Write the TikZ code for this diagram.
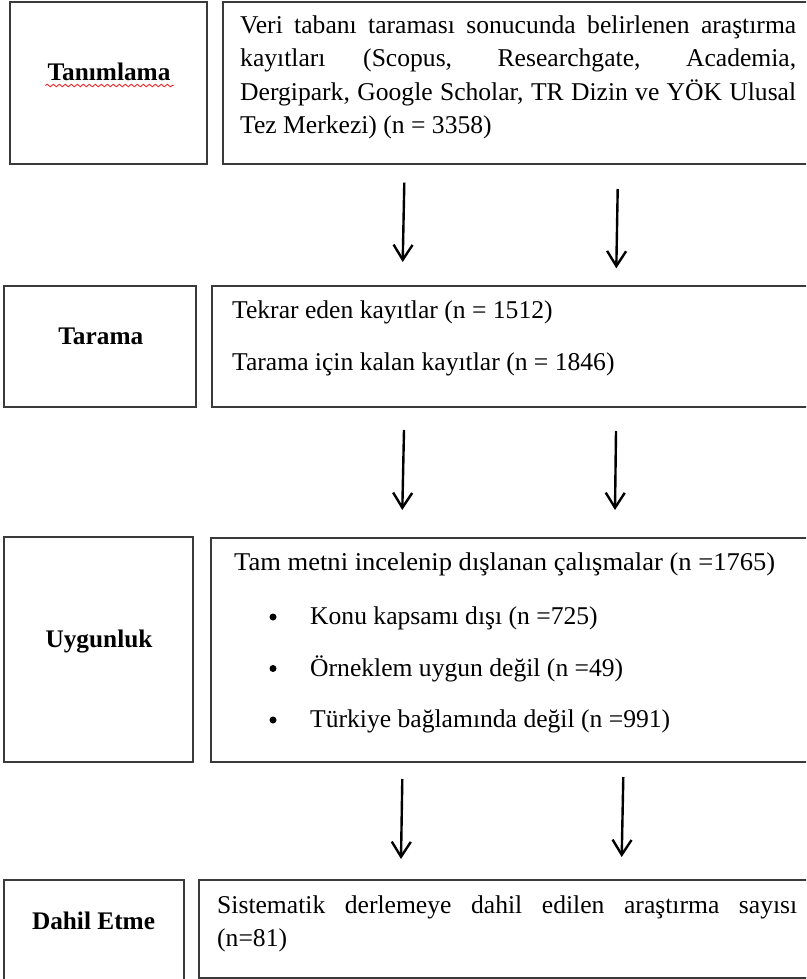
\documentclass[tikz,border=0pt]{standalone}
\usepackage{fontspec}
\setmainfont{Liberation Serif}
\usetikzlibrary{arrows.meta,decorations.pathmorphing}
\definecolor{frame}{RGB}{58,58,58}
\definecolor{spellred}{RGB}{235,40,40}

\begin{document}
\begin{tikzpicture}[x=1pt,y=-1pt,
  panel/.style={draw=frame,line width=1.9pt,inner sep=0pt,outer sep=0pt,anchor=north west},
  stagelabel/.style={font=\fontsize{25.3}{30}\selectfont\bfseries,inner sep=0pt,anchor=base},
  body/.style={font=\fontsize{25.6}{33.5}\selectfont,inner sep=0pt,anchor=base west},
  dot/.style={circle,fill=black,inner sep=0pt,minimum size=7pt},
  flow/.style={line width=2.4pt,-{Straight Barb[length=15pt,width=19pt]}}
]
\useasboundingbox (0,0) rectangle (806,979);
\clip (0,0) rectangle (806,979);

% stage 1: identification
\node[panel,minimum width=197pt,minimum height=162pt] (idbox) at (10,2) {};
\node[panel,minimum width=600pt,minimum height=162pt] (idtext) at (223,2) {};
\node[stagelabel] (idlabel) at (109,81) {Tanımlama};
\draw[spellred,line width=0.9pt,decoration={snake,segment length=6pt,amplitude=1.3pt},decorate]
  ([xshift=-2pt,yshift=-4.5pt]idlabel.base west) -- ([xshift=3pt,yshift=-4.5pt]idlabel.base east);
\node[body] (idbody) at (240,33.3) {\parbox[t]{556pt}{\fontsize{25.6}{33.5}\selectfont
  \makebox[556pt][s]{Veri tabanı taraması sonucunda belirlenen araştırma}\\
  \makebox[556pt][s]{kayıtları (Scopus, Researchgate, Academia,}\\
  \makebox[556pt][s]{Dergipark, Google Scholar, TR Dizin ve YÖK Ulusal}\\
  Tez Merkezi) (n = 3358)}};

% stage 2: screening
\node[panel,minimum width=192pt,minimum height=121pt] (scbox) at (4,286) {};
\node[panel,minimum width=610pt,minimum height=121pt] (sctext) at (212,286) {};
\node[stagelabel] (sclabel) at (100.8,344) {Tarama};
\node[body] (sc1) at (232,318.3) {Tekrar eden kayıtlar (n = 1512)};
\node[body] (sc2) at (232,370) {Tarama için kalan kayıtlar (n = 1846)};

% stage 3: eligibility
\node[panel,minimum width=189pt,minimum height=225pt] (elbox) at (4,537) {};
\node[panel,minimum width=612pt,minimum height=224pt] (eltext) at (211,538) {};
\node[stagelabel] (ellabel) at (99,647) {Uygunluk};
\node[body] (el0) at (234,570) {\resizebox{541pt}{\height}{Tam metni incelenip dışlanan çalışmalar (n =1765)}};
\node[dot] (b1) at (273,617) {};
\node[body] (el1) at (310,624.5) {Konu kapsamı dışı (n =725)};
\node[dot] (b2) at (273,668.5) {};
\node[body] (el2) at (310,676) {Örneklem uygun değil (n =49)};
\node[dot] (b3) at (273,720) {};
\node[body] (el3) at (310,727.5) {Türkiye bağlamında değil (n =991)};

% stage 4: inclusion
\node[panel,minimum width=180pt,minimum height=104pt] (inbox) at (4,880) {};
\node[panel,minimum width=624pt,minimum height=98pt] (intext) at (199,880) {};
\node[stagelabel] (inlabel) at (93.5,929) {Dahil Etme};
\node[body] (inbody) at (217,913.3) {\parbox[t]{580pt}{\fontsize{25.6}{33.5}\selectfont
  \makebox[580pt][s]{Sistematik derlemeye dahil edilen araştırma sayısı}\\
  (n=81)}};

% flow arrows between the stages
\coordinate (a1s) at (404.3,182.7); \coordinate (a1e) at (402.7,262);
\coordinate (a2s) at (617.7,189);   \coordinate (a2e) at (616.3,268.3);
\coordinate (a3s) at (404,430);     \coordinate (a3e) at (402.3,510);
\coordinate (a4s) at (616,431);     \coordinate (a4e) at (615,510);
\coordinate (a5s) at (402.3,779);   \coordinate (a5e) at (401,859);
\coordinate (a6s) at (623.3,777);   \coordinate (a6e) at (621.7,857);
\foreach \i in {1,...,6} \draw[flow] (a\i s) -- (a\i e);
\end{tikzpicture}
\end{document}
